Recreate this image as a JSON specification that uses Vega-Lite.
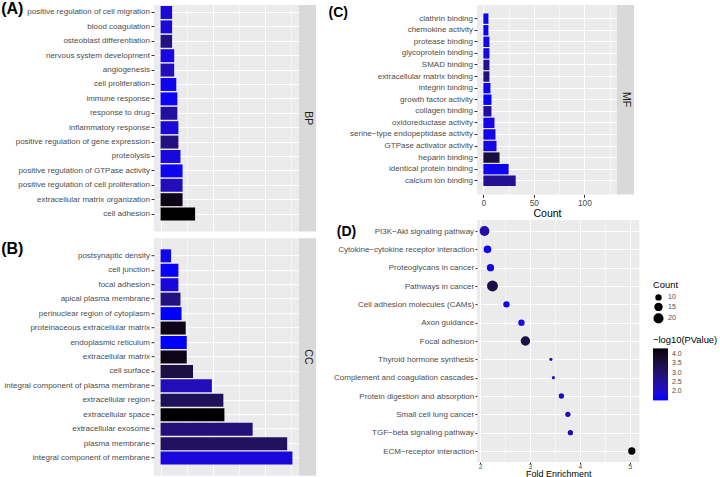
{
  "$schema": "https://vega.github.io/schema/vega-lite/v6.json",
  "padding": 0,
  "config": {"font": "Liberation Sans", "view": {"stroke": null}},
  "datasets": {
    "go": [
      {"panel": "BP", "term": "positive regulation of cell migration", "count": 11, "logp": 1.9},
      {"panel": "BP", "term": "blood coagulation", "count": 11, "logp": 1.9},
      {"panel": "BP", "term": "osteoblast differentiation", "count": 11, "logp": 2.8},
      {"panel": "BP", "term": "nervous system development", "count": 13, "logp": 1.8},
      {"panel": "BP", "term": "angiogenesis", "count": 13, "logp": 2.2},
      {"panel": "BP", "term": "cell proliferation", "count": 15, "logp": 1.65},
      {"panel": "BP", "term": "immune response", "count": 16, "logp": 1.6},
      {"panel": "BP", "term": "response to drug", "count": 16, "logp": 2.5},
      {"panel": "BP", "term": "inflammatory response", "count": 17, "logp": 1.9},
      {"panel": "BP", "term": "positive regulation of gene expression", "count": 17, "logp": 2.8},
      {"panel": "BP", "term": "proteolysis", "count": 19, "logp": 1.85},
      {"panel": "BP", "term": "positive regulation of GTPase activity", "count": 21, "logp": 1.65},
      {"panel": "BP", "term": "positive regulation of cell proliferation", "count": 21, "logp": 2.2},
      {"panel": "BP", "term": "extracellular matrix organization", "count": 21, "logp": 4.1},
      {"panel": "BP", "term": "cell adhesion", "count": 33, "logp": 4.4},
      {"panel": "CC", "term": "postsynaptic density", "count": 10, "logp": 1.65},
      {"panel": "CC", "term": "cell junction", "count": 17, "logp": 1.55},
      {"panel": "CC", "term": "focal adhesion", "count": 17, "logp": 1.85},
      {"panel": "CC", "term": "apical plasma membrane", "count": 19, "logp": 2.8},
      {"panel": "CC", "term": "perinuclear region of cytoplasm", "count": 20, "logp": 1.5},
      {"panel": "CC", "term": "proteinaceous extracellular matrix", "count": 24, "logp": 4.1},
      {"panel": "CC", "term": "endoplasmic reticulum", "count": 25, "logp": 1.5},
      {"panel": "CC", "term": "extracellular matrix", "count": 25, "logp": 4.1},
      {"panel": "CC", "term": "cell surface", "count": 31, "logp": 3.5},
      {"panel": "CC", "term": "integral component of plasma membrane", "count": 49, "logp": 2.2},
      {"panel": "CC", "term": "extracellular region", "count": 60, "logp": 3.25},
      {"panel": "CC", "term": "extracellular space", "count": 61, "logp": 4.4},
      {"panel": "CC", "term": "extracellular exosome", "count": 88, "logp": 2.9},
      {"panel": "CC", "term": "plasma membrane", "count": 121, "logp": 3.2},
      {"panel": "CC", "term": "integral component of membrane", "count": 126, "logp": 1.85},
      {"panel": "MF", "term": "clathrin binding", "count": 5, "logp": 1.65},
      {"panel": "MF", "term": "chemokine activity", "count": 5, "logp": 1.65},
      {"panel": "MF", "term": "protease binding", "count": 6, "logp": 1.75},
      {"panel": "MF", "term": "glycoprotein binding", "count": 6, "logp": 1.8},
      {"panel": "MF", "term": "SMAD binding", "count": 6, "logp": 2.6},
      {"panel": "MF", "term": "extracellular matrix binding", "count": 6, "logp": 2.8},
      {"panel": "MF", "term": "integrin binding", "count": 7, "logp": 1.65},
      {"panel": "MF", "term": "growth factor activity", "count": 8, "logp": 1.55},
      {"panel": "MF", "term": "collagen binding", "count": 8, "logp": 2.5},
      {"panel": "MF", "term": "oxidoreductase activity", "count": 11, "logp": 1.8},
      {"panel": "MF", "term": "serine−type endopeptidase activity", "count": 12, "logp": 1.75},
      {"panel": "MF", "term": "GTPase activator activity", "count": 13, "logp": 1.75},
      {"panel": "MF", "term": "heparin binding", "count": 16, "logp": 3.6},
      {"panel": "MF", "term": "identical protein binding", "count": 25, "logp": 1.65},
      {"panel": "MF", "term": "calcium ion binding", "count": 32, "logp": 2.6}
    ],
    "kegg": [
      {"term": "PI3K−Akt signaling pathway", "fe": 2.09, "count": 19, "logp": 2.35},
      {"term": "Cytokine−cytokine receptor interaction", "fe": 2.15, "count": 13, "logp": 1.65},
      {"term": "Proteoglycans in cancer", "fe": 2.21, "count": 12, "logp": 1.75},
      {"term": "Pathways in cancer", "fe": 2.25, "count": 23, "logp": 3.5},
      {"term": "Cell adhesion molecules (CAMs)", "fe": 2.53, "count": 10, "logp": 1.6},
      {"term": "Axon guidance", "fe": 2.83, "count": 10, "logp": 1.85},
      {"term": "Focal adhesion", "fe": 2.91, "count": 18, "logp": 3.5},
      {"term": "Thyroid hormone synthesis", "fe": 3.42, "count": 5, "logp": 2.05},
      {"term": "Complement and coagulation cascades", "fe": 3.47, "count": 5, "logp": 1.8},
      {"term": "Protein digestion and absorption", "fe": 3.63, "count": 8, "logp": 2.05},
      {"term": "Small cell lung cancer", "fe": 3.76, "count": 8, "logp": 2.35},
      {"term": "TGF−beta signaling pathway", "fe": 3.81, "count": 8, "logp": 2.35},
      {"term": "ECM−receptor interaction", "fe": 5.04, "count": 12, "logp": 4.3}
    ]
  },
  "spacing": 0,
  "resolve": {"scale": {"color": "independent", "size": "independent"}, "legend": {"color": "independent", "size": "independent"}},
  "hconcat": [
    {
      "spacing": 6.2,
      "resolve": {"scale": {"color": "independent"}, "legend": {"color": "independent"}},
      "vconcat": [
        {
          "spacing": 0,
          "bounds": "flush",
          "resolve": {"scale": {"color": "independent"}, "legend": {"color": "independent"}},
          "hconcat": [
            {
              "width": 145, "height": 226.5,
              "view": {"fill": "#ebebeb", "stroke": null},
              "data": {"name": "go"},
              "transform": [{"filter": "datum.panel === 'BP'"}],
              "mark": {"type": "bar"},
              "encoding": {
                "y": {"field": "term", "type": "nominal", "sort": null,
                  "scale": {"paddingInner": 0.1, "paddingOuter": 0.415, "align": 0.084},
                  "axis": {"title": "(A)", "titleX": -153.3, "titleY": -4.5, "titleAngle": 0, "titleAlign": "left", "titleBaseline": "top", "titleFontSize": 16, "titleFontWeight": "bold", "titleColor": "#000000",
                    "domain": false, "tickSize": 3, "tickColor": "#333333", "labelFontSize": 8, "labelColor": "#4d4d4d", "labelPadding": 1.5, "labelLimit": 0,
                    "grid": true, "gridColor": "#ffffff", "gridWidth": 1, "bandPosition": 0.5, "minExtent": 153.3, "maxExtent": 153.3}},
                "x": {"field": "count", "type": "quantitative",
                  "scale": {"domain": [-6.3, 132.3], "nice": false, "zero": false},
                  "axis": {"values": [0, 25, 50, 75, 100, 125], "labels": false, "ticks": false, "domain": false, "title": null,
                    "grid": true, "gridColor": "#ffffff", "gridWidth": {"condition": {"test": "abs(datum.value % 50) < 0.01", "value": 1}, "value": 0.5}}},
                "color": {"field": "logp", "type": "quantitative", "legend": null,
                  "scale": {"type": "linear", "domain": [1.5, 4.31], "range": ["#0000ff", "#000000"], "interpolate": "lab", "clamp": true, "zero": false, "nice": false}}
              }
            },
            {
              "width": 17, "height": 226.5,
              "view": {"fill": "#d9d9d9", "stroke": null},
              "data": {"values": [{"label": "BP"}]},
              "mark": {"type": "text", "angle": 90, "fontSize": 10.5, "color": "#1a1a1a", "align": "center", "baseline": "middle"},
              "encoding": {"text": {"field": "label", "type": "nominal"}}
            }
          ]
        },
        {
          "spacing": 0,
          "bounds": "flush",
          "resolve": {"scale": {"color": "independent"}, "legend": {"color": "independent"}},
          "hconcat": [
            {
              "width": 145, "height": 237.5,
              "view": {"fill": "#ebebeb", "stroke": null},
              "data": {"name": "go"},
              "transform": [{"filter": "datum.panel === 'CC'"}],
              "mark": {"type": "bar"},
              "encoding": {
                "y": {"field": "term", "type": "nominal", "sort": null,
                  "scale": {"paddingInner": 0.1, "paddingOuter": 0.77},
                  "axis": {"title": "(B)", "titleX": -153.3, "titleY": 1.8, "titleAngle": 0, "titleAlign": "left", "titleBaseline": "top", "titleFontSize": 16, "titleFontWeight": "bold", "titleColor": "#000000",
                    "domain": false, "tickSize": 3, "tickColor": "#333333", "labelFontSize": 8, "labelColor": "#4d4d4d", "labelPadding": 1.5, "labelLimit": 0,
                    "grid": true, "gridColor": "#ffffff", "gridWidth": 1, "bandPosition": 0.5, "minExtent": 153.3, "maxExtent": 153.3}},
                "x": {"field": "count", "type": "quantitative",
                  "scale": {"domain": [-6.3, 132.3], "nice": false, "zero": false},
                  "axis": {"values": [0, 25, 50, 75, 100, 125], "labels": false, "ticks": false, "domain": false, "title": null,
                    "grid": true, "gridColor": "#ffffff", "gridWidth": {"condition": {"test": "abs(datum.value % 50) < 0.01", "value": 1}, "value": 0.5}}},
                "color": {"field": "logp", "type": "quantitative", "legend": null,
                  "scale": {"type": "linear", "domain": [1.5, 4.31], "range": ["#0000ff", "#000000"], "interpolate": "lab", "clamp": true, "zero": false, "nice": false}}
              }
            },
            {
              "width": 17, "height": 237.5,
              "view": {"fill": "#d9d9d9", "stroke": null},
              "data": {"values": [{"label": "CC"}]},
              "mark": {"type": "text", "angle": 90, "fontSize": 10.5, "color": "#1a1a1a", "align": "center", "baseline": "middle"},
              "encoding": {"text": {"field": "label", "type": "nominal"}}
            }
          ]
        }
      ]
    },
    {
      "spacing": 0,
      "resolve": {"scale": {"color": "independent", "size": "independent"}, "legend": {"color": "independent", "size": "independent"}},
      "vconcat": [
        {
          "spacing": 0,
          "resolve": {"scale": {"color": "independent"}, "legend": {"color": "independent"}},
          "hconcat": [
            {
              "spacing": 0,
              "bounds": "flush",
              "resolve": {"scale": {"color": "independent"}, "legend": {"color": "independent"}},
              "hconcat": [
                {
                  "width": 140, "height": 189.4,
                  "view": {"fill": "#ebebeb", "stroke": null},
                  "data": {"name": "go"},
                  "transform": [{"filter": "datum.panel === 'MF'"}],
                  "mark": {"type": "bar"},
                  "encoding": {
                    "y": {"field": "term", "type": "nominal", "sort": null,
                      "scale": {"paddingInner": 0.1, "paddingOuter": 0.73},
                      "axis": {"title": ["", "(C)"], "titleLineHeight": 4, "titleX": -149, "titleY": -3.3, "titleAngle": 0, "titleAlign": "left", "titleBaseline": "top", "titleFontSize": 14, "titleFontWeight": "bold", "titleColor": "#000000",
                        "domain": false, "tickSize": 3, "tickColor": "#333333", "labelFontSize": 8, "labelColor": "#4d4d4d", "labelPadding": 1.5, "labelLimit": 0,
                        "grid": true, "gridColor": "#ffffff", "gridWidth": 1, "bandPosition": 0.5, "minExtent": 160.7, "maxExtent": 160.7}},
                    "x": {"field": "count", "type": "quantitative",
                      "scale": {"domain": [-6.3, 132.3], "nice": false, "zero": false},
                      "axis": {"values": [0, 25, 50, 75, 100, 125], "labelExpr": "abs(datum.value % 50) < 0.01 ? datum.label : ''",
                        "labelFlush": false, "labelOverlap": false,
                        "tickOpacity": {"condition": {"test": "abs(datum.value % 50) < 0.01", "value": 1}, "value": 0},
                        "domain": false, "tickSize": 3, "tickColor": "#333333", "labelFontSize": 8.4, "labelColor": "#4d4d4d", "labelPadding": 1,
                        "title": "Count", "titleFontSize": 10.5, "titleFontWeight": "normal", "titleColor": "#000000", "titlePadding": 2,
                        "grid": true, "gridColor": "#ffffff", "gridWidth": {"condition": {"test": "abs(datum.value % 50) < 0.01", "value": 1}, "value": 0.5}}},
                    "color": {"field": "logp", "type": "quantitative", "legend": null,
                      "scale": {"type": "linear", "domain": [1.5, 4.31], "range": ["#0000ff", "#000000"], "interpolate": "lab", "clamp": true, "zero": false, "nice": false}}
                  }
                },
                {
                  "width": 17, "height": 189.4,
                  "view": {"fill": "#d9d9d9", "stroke": null},
                  "data": {"values": [{"label": "MF"}]},
                  "mark": {"type": "text", "angle": 90, "fontSize": 10.5, "color": "#1a1a1a", "align": "center", "baseline": "middle"},
                  "encoding": {"text": {"field": "label", "type": "nominal"}}
                }
              ]
            }
          ]
        },
        {
          "spacing": 0,
          "resolve": {"scale": {"color": "independent", "size": "independent"}, "legend": {"color": "independent", "size": "independent"}},
          "hconcat": [
            {
              "width": 162.3, "height": 242,
              "view": {"fill": "#ebebeb", "stroke": null},
              "data": {"name": "kegg"},
              "resolve": {"axis": {"x": "independent"}},
              "layer": [
                {
                  "mark": {"type": "circle", "opacity": 0},
                  "encoding": {
                    "x": {"field": "fe", "type": "quantitative",
                      "scale": {"domain": [1.94, 5.19], "nice": false, "zero": false},
                      "axis": {"orient": "bottom", "values": [2.5, 3.5, 4.5], "labels": false, "ticks": false, "domain": false, "title": null,
                        "grid": true, "gridColor": "#ffffff", "gridWidth": 0.5}}
                  }
                },
                {
                  "mark": {"type": "circle", "opacity": 1},
                  "encoding": {
                    "y": {"field": "term", "type": "nominal", "sort": null,
                      "scale": {"type": "point", "padding": 0.6},
                      "axis": {"title": "(D)", "titleX": -140.7, "titleY": 4, "titleAngle": 0, "titleAlign": "left", "titleBaseline": "top", "titleFontSize": 14, "titleFontWeight": "bold", "titleColor": "#000000",
                        "domain": false, "tickSize": 2, "tickColor": "#333333", "labelFontSize": 8, "labelColor": "#4d4d4d", "labelPadding": 1.4, "labelLimit": 0,
                        "grid": true, "gridColor": "#ffffff", "gridWidth": 1, "minExtent": 152.4, "maxExtent": 152.4}},
                    "x": {"field": "fe", "type": "quantitative",
                      "scale": {"domain": [1.94, 5.19], "nice": false, "zero": false},
                      "axis": {"orient": "bottom", "values": [2, 3, 4, 5], "format": "d", "labelFlush": false, "labelOverlap": false,
                        "domain": false, "tickSize": 1.5, "tickColor": "#333333", "labelFontSize": 6.5, "labelColor": "#4d4d4d", "labelPadding": 0,
                        "title": "Fold Enrichment", "titleFontSize": 9, "titleFontWeight": "normal", "titleColor": "#000000", "titlePadding": -1,
                        "grid": true, "gridColor": "#ffffff", "gridWidth": 1}},
                    "size": {"field": "count", "type": "quantitative",
                      "scale": {"domain": [5, 23], "range": [10, 120], "zero": false, "nice": false},
                      "legend": {"orient": "none", "legendX": 176, "legendY": 61, "title": "Count", "values": [10, 15, 20],
                        "symbolFillColor": "#000000", "symbolStrokeWidth": 0, "symbolType": "circle", "labelFontSize": 7, "labelColor": "#4d4d4d",
                        "titleFontSize": 9.4, "titleFontWeight": "normal", "titleColor": "#000000", "rowPadding": 1.5, "titlePadding": 3.5}},
                    "color": {"field": "logp", "type": "quantitative",
                      "scale": {"type": "linear", "domain": [1.5, 4.31], "range": ["#0000ff", "#000000"], "interpolate": "lab", "clamp": true, "zero": false, "nice": false},
                      "legend": {"orient": "none", "legendX": 176, "legendY": 116, "title": "−log10(PValue)", "direction": "vertical",
                        "gradientLength": 52, "gradientThickness": 15, "gradientStrokeWidth": 0, "values": [2, 2.5, 3, 3.5, 4], "format": ".1f",
                        "labelFontSize": 7, "labelColor": "#4d4d4d", "titleFontSize": 9.4, "titleFontWeight": "normal", "titleColor": "#000000", "titlePadding": 3, "labelOffset": 4}}
                  }
                }
              ]
            }
          ]
        }
      ]
    }
  ]
}
